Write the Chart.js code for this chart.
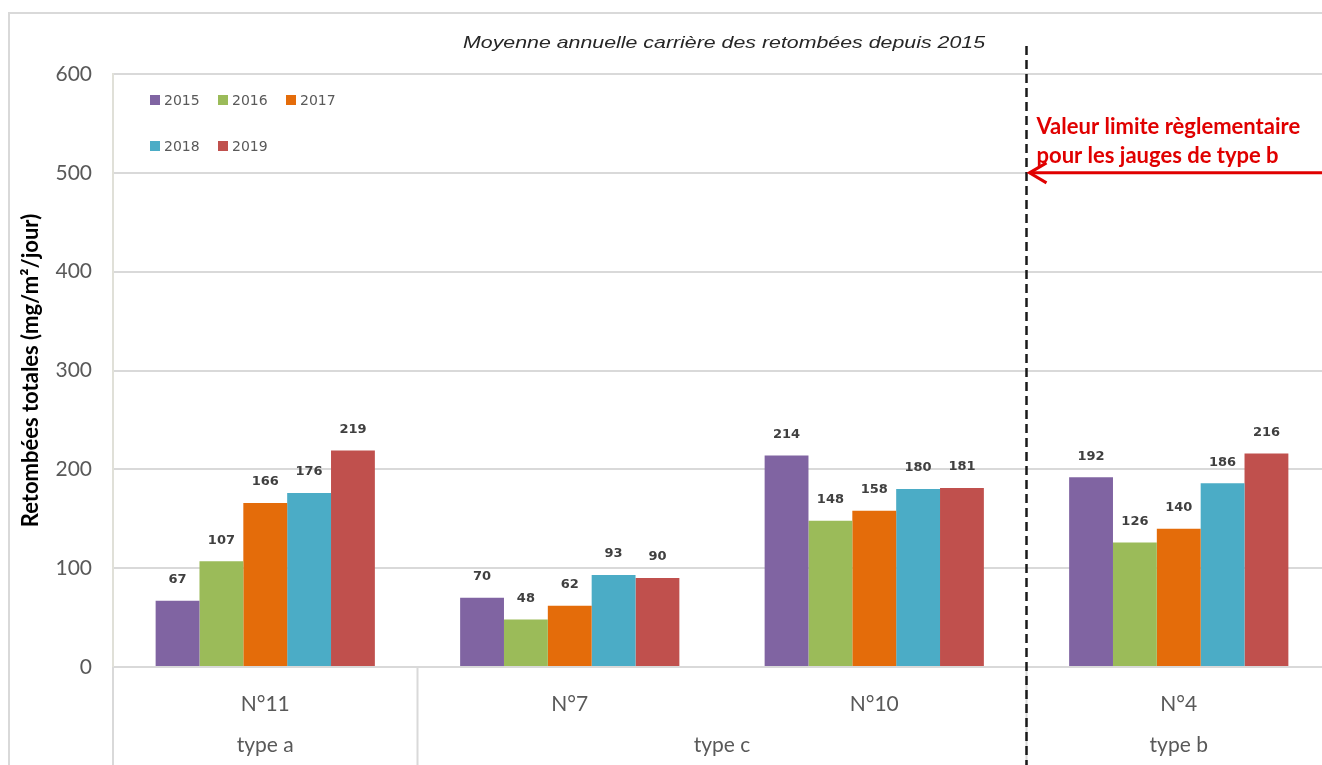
<!DOCTYPE html>
<html>
<head>
<meta charset="utf-8">
<script src="https://cdn.jsdelivr.net/npm/chart.js@4.4.0/dist/chart.umd.min.js"></script>
<style>
  html, body { margin: 0; padding: 0; background: #fff; overflow: hidden; }
  #wrap { width: 1322px; height: 765px; overflow: hidden; }
</style>
</head>
<body>
<div id="wrap"><canvas id="myChart" width="1331" height="765"></canvas></div>
<script>
// data
const stations = ['N°11', 'N°7', 'N°10', 'N°4'];
const gaugeTypes = ['type a', 'type c', 'type c', 'type b'];
const years = ['2015', '2016', '2017', '2018', '2019'];
const v2015 = [67, 70, 214, 192];
const v2016 = [107, 48, 148, 126];
const v2017 = [166, 62, 158, 140];
const v2018 = [176, 93, 180, 186];
const v2019 = [219, 90, 181, 216];
const limitValue = 500;
const yTicks = [0, 100, 200, 300, 400, 500, 600];

const colors = ['#8064A2', '#9BBB59', '#E46C0A', '#4BACC6', '#C0504D'];
const series = [v2015, v2016, v2017, v2018, v2019];

const calibri = 'Lato, "Open Sans", sans-serif';

// bar value labels
const valueLabels = {
  id: 'valueLabels',
  afterDatasetsDraw(chart) {
    const ctx = chart.ctx;
    ctx.save();
    ctx.font = 'bold 13px "DejaVu Sans", Verdana, sans-serif';
    ctx.fillStyle = '#404040';
    ctx.textAlign = 'center';
    ctx.textBaseline = 'middle';
    chart.data.datasets.forEach((ds, i) => {
      chart.getDatasetMeta(i).data.forEach((bar, j) => {
        ctx.fillText(ds.data[j], bar.x, bar.y - 21);
      });
    });
    ctx.restore();
  }
};

// title, legend, frame, group axis, limit annotation
const decorations = {
  id: 'decorations',
  beforeDraw(chart) {
    const ctx = chart.ctx;
    ctx.save();
    ctx.strokeStyle = '#d9d9d9';
    ctx.lineWidth = 2;
    ctx.beginPath();
    ctx.moveTo(9, 765);
    ctx.lineTo(9, 13);
    ctx.lineTo(chart.width, 13);
    ctx.stroke();
    ctx.restore();
  },
  afterDraw(chart) {
    const ctx = chart.ctx;
    const area = chart.chartArea;
    const x = chart.scales.x;
    const y = chart.scales.y;
    ctx.save();

    // title (stretched to the width of the original)
    const title = 'Moyenne annuelle carrière des retombées depuis 2015';
    ctx.font = 'italic 17px "Liberation Sans", Arial, sans-serif';
    ctx.fillStyle = '#262626';
    ctx.textAlign = 'center';
    ctx.textBaseline = 'middle';
    const tw = ctx.measureText(title).width;
    const sx = 522 / tw;
    ctx.save();
    ctx.translate(724, 43);
    ctx.scale(sx, 1);
    ctx.fillText(title, 0, 0);
    ctx.restore();

    // legend
    ctx.font = '14px "DejaVu Sans", Verdana, sans-serif';
    ctx.textAlign = 'left';
    years.forEach((yr, i) => {
      const col = i < 3 ? i : i - 3;
      const row = i < 3 ? 0 : 1;
      const lx = area.left + 37 + col * 68;
      const ly = area.top + 26 + row * 46;
      ctx.fillStyle = colors[i];
      ctx.fillRect(lx, ly - 5, 10, 10);
      ctx.fillStyle = '#595959';
      ctx.fillText(yr, lx + 14, ly + 1);
    });

    // lower axis: separators and gauge types
    const step = x.getPixelForValue(1) - x.getPixelForValue(0);
    ctx.strokeStyle = '#d9d9d9';
    ctx.lineWidth = 2;
    const bounds = [0];
    for (let i = 1; i < gaugeTypes.length; i++) {
      if (gaugeTypes[i] !== gaugeTypes[i - 1]) bounds.push(i);
    }
    bounds.push(gaugeTypes.length);
    bounds.forEach(b => {
      const bx = x.getPixelForValue(0) - step / 2 + b * step;
      ctx.beginPath();
      ctx.moveTo(bx, area.bottom);
      ctx.lineTo(bx, chart.height);
      ctx.stroke();
    });
    ctx.font = '21px ' + calibri;
    ctx.fillStyle = '#595959';
    ctx.textAlign = 'center';
    for (let k = 0; k < bounds.length - 1; k++) {
      const a = bounds[k], b = bounds[k + 1] - 1;
      const cx = (x.getPixelForValue(a) + x.getPixelForValue(b)) / 2;
      ctx.fillText(gaugeTypes[a], cx, 745);
    }

    // dashed separator before type b
    const dx = (x.getPixelForValue(2) + x.getPixelForValue(3)) / 2;
    ctx.strokeStyle = '#1a1a1a';
    ctx.lineWidth = 2.5;
    ctx.setLineDash([9, 5]);
    ctx.beginPath();
    ctx.moveTo(dx, 46);
    ctx.lineTo(dx, chart.height);
    ctx.stroke();
    ctx.setLineDash([]);

    // limit arrow
    const ay = y.getPixelForValue(limitValue);
    ctx.strokeStyle = '#E00000';
    ctx.lineWidth = 3;
    ctx.beginPath();
    ctx.moveTo(1322, ay);
    ctx.lineTo(dx + 3, ay);
    ctx.stroke();
    ctx.lineWidth = 3;
    ctx.beginPath();
    ctx.moveTo(dx + 20, ay - 10);
    ctx.lineTo(dx + 3, ay);
    ctx.lineTo(dx + 20, ay + 10);
    ctx.stroke();

    ctx.font = 'bold 22px ' + calibri;
    ctx.fillStyle = '#E00000';
    ctx.textAlign = 'left';
    ctx.fillText('Valeur limite règlementaire', dx + 10, 127);
    ctx.fillText('pour les jauges de type b', dx + 10, 156);

    ctx.restore();
  }
};

const data = {
  labels: stations,
  datasets: years.map((yr, i) => ({
    label: yr,
    data: series[i],
    backgroundColor: colors[i],
    borderWidth: 0
  }))
};

const config = {
  type: 'bar',
  data: data,
  options: {
    responsive: false,
    animation: false,
    categoryPercentage: 0.72,
    barPercentage: 1,
    layout: {
      padding: { left: 10, top: 74, right: 0, bottom: 0 }
    },
    plugins: {
      legend: { display: false },
      title: { display: false },
      tooltip: { enabled: false }
    },
    scales: {
      x: {
        grid: { display: false },
        border: { display: false },
        ticks: {
          color: '#595959',
          font: { family: calibri, size: 21 },
          padding: 17
        },
        afterFit: s => { s.height = 98; }
      },
      y: {
        min: 0,
        max: 600,
        afterBuildTicks: s => { s.ticks = yTicks.map(v => ({ value: v })); },
        grid: { color: '#d9d9d9', lineWidth: 2, drawTicks: false },
        border: { display: true, color: '#e0e0d8', width: 2 },
        ticks: {
          color: '#595959',
          font: { family: calibri, size: 21 },
          padding: 21
        },
        title: {
          display: true,
          text: 'Retombées totales (mg/m²/jour)',
          color: '#000',
          font: { family: calibri, size: 22, weight: 'bold' },
          padding: { top: 8, bottom: 0 }
        },
        afterFit: s => { s.width = 103; }
      }
    }
  },
  plugins: [valueLabels, decorations]
};

var myChart = new Chart(document.getElementById('myChart'), config);
</script>
</body>
</html>
